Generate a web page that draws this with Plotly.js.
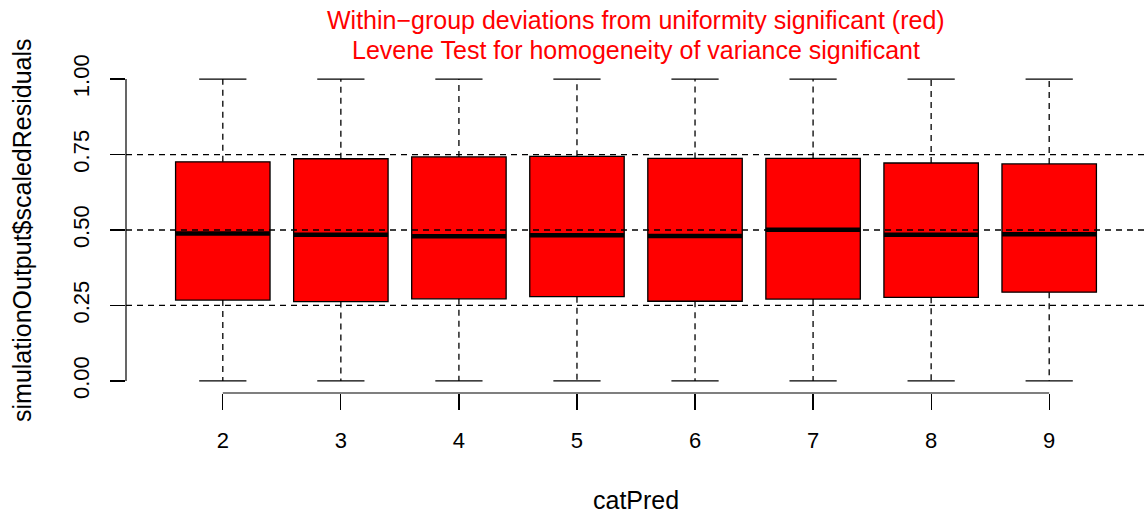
<!DOCTYPE html>
<html>
<head>
<meta charset="utf-8">
<script src="https://cdn.plot.ly/plotly-3.0.1.min.js"></script>
<style>html,body{margin:0;padding:0;background:#fff;}#chart{width:1146px;height:513px;}</style>
</head>
<body>
<div id="chart"></div>
<script>
// Data
const categories = ['2', '3', '4', '5', '6', '7', '8', '9'];
const lowerWhisker = [0, 0, 0, 0, 0, 0, 0, 0];
const q1 = [0.268, 0.263, 0.272, 0.279, 0.264, 0.271, 0.277, 0.294];
const median = [0.488, 0.484, 0.479, 0.483, 0.480, 0.501, 0.484, 0.486];
const q3 = [0.726, 0.736, 0.742, 0.744, 0.737, 0.737, 0.722, 0.719];
const upperWhisker = [1, 1, 1, 1, 1, 1, 1, 1];
const refLines = [0.25, 0.5, 0.75];
const yTicks = [0, 0.25, 0.5, 0.75, 1];
const yTickText = ['0.00', '0.25', '0.50', '0.75', '1.00'];
const titleLines = ['Within\u2212group deviations from uniformity significant (red)',
                    'Levene Test for homogeneity of variance significant'];
const xTitle = 'catPred';
const yTitle = 'simulationOutput$scaledResiduals';

const pos = categories.map((c, i) => i + 1);
const boxW = 0.8, capW = 0.4;
const FONT = 'Liberation Sans, Arial, sans-serif';
const LW = 1.3;

const traces = [];
// whiskers (dashed)
const wx = [], wy = [];
pos.forEach((p, i) => {
  wx.push(p, p, null, p, p, null);
  wy.push(q3[i], upperWhisker[i], null, q1[i], lowerWhisker[i], null);
});
traces.push({type: 'scatter', mode: 'lines', x: wx, y: wy, line: {color: '#000', width: LW, dash: '6px,5px'}, hoverinfo: 'skip', showlegend: false});
// caps (solid)
const cx = [], cy = [];
pos.forEach((p, i) => {
  cx.push(p - capW / 2, p + capW / 2, null, p - capW / 2, p + capW / 2, null);
  cy.push(upperWhisker[i], upperWhisker[i], null, lowerWhisker[i], lowerWhisker[i], null);
});
traces.push({type: 'scatter', mode: 'lines', x: cx, y: cy, line: {color: '#000', width: LW}, hoverinfo: 'skip', showlegend: false});
// boxes
traces.push({type: 'bar', x: pos, y: q3.map((v, i) => v - q1[i]), base: q1, width: boxW,
  marker: {color: '#FF0000', line: {color: '#000', width: 1.3}}, hoverinfo: 'skip', showlegend: false});
// medians
const mx = [], my = [];
pos.forEach((p, i) => {
  mx.push(p - boxW / 2, p + boxW / 2, null);
  my.push(median[i], median[i], null);
});
traces.push({type: 'scatter', mode: 'lines', x: mx, y: my, line: {color: '#000', width: 4.5}, hoverinfo: 'skip', showlegend: false});
// reference dashed lines across the plot region
const rx = [], ry = [];
refLines.forEach(v => { rx.push(0.18, 8.82, null); ry.push(v, v, null); });
traces.push({type: 'scatter', mode: 'lines', x: rx, y: ry, line: {color: '#000', width: LW, dash: '6px,5px'}, hoverinfo: 'skip', showlegend: false});

const layout = {
  width: 1146, height: 513,
  margin: {l: 126, r: 0, t: 67, b: 120},
  paper_bgcolor: '#fff', plot_bgcolor: '#fff',
  font: {family: FONT, color: '#000', size: 22},
  barmode: 'overlay',
  xaxis: {
    range: [0.18, 8.82], tickvals: pos, ticktext: categories,
    showgrid: false, zeroline: false, showline: false,
    ticks: 'outside', ticklen: 16, tickwidth: 1.2, tickcolor: '#000',
    ticklabelstandoff: 12,
    tickfont: {family: FONT, size: 22}
  },
  yaxis: {
    range: [-0.04, 1.04], tickvals: yTicks, ticktext: yTickText, tickangle: -90,
    showgrid: false, zeroline: false, showline: false,
    ticks: 'outside', ticklen: 15, tickwidth: 1.2, tickcolor: '#000',
    ticklabelstandoff: 12,
    tickfont: {family: FONT, size: 22}
  },
  shapes: [
    {type: 'line', xref: 'x', yref: 'paper', x0: pos[0], x1: pos[pos.length - 1], y0: 0, y1: 0, line: {color: '#000', width: 1.2}},
    {type: 'line', xref: 'paper', yref: 'y', x0: 0, x1: 0, y0: yTicks[0], y1: yTicks[yTicks.length - 1], line: {color: '#000', width: 1.2}}
  ],
  annotations: [
    {text: titleLines[0], xref: 'paper', yref: 'paper', x: 0.5, y: 1, yshift: 47, showarrow: false, font: {family: FONT, size: 25, color: '#FF0000'}, xanchor: 'center', yanchor: 'middle'},
    {text: titleLines[1], xref: 'paper', yref: 'paper', x: 0.5, y: 1, yshift: 17, showarrow: false, font: {family: FONT, size: 25, color: '#FF0000'}, xanchor: 'center', yanchor: 'middle'},
    {text: xTitle, xref: 'paper', yref: 'paper', x: 0.5, y: 0, yshift: -107, showarrow: false, font: {family: FONT, size: 25}, xanchor: 'center', yanchor: 'middle'},
    {text: yTitle, xref: 'paper', yref: 'paper', x: 0, xshift: -104, y: 0.5, textangle: -90, showarrow: false, font: {family: FONT, size: 25}, xanchor: 'center', yanchor: 'middle'}
  ]
};
Plotly.newPlot('chart', traces, layout, {displayModeBar: false, staticPlot: true});
</script>
</body>
</html>
